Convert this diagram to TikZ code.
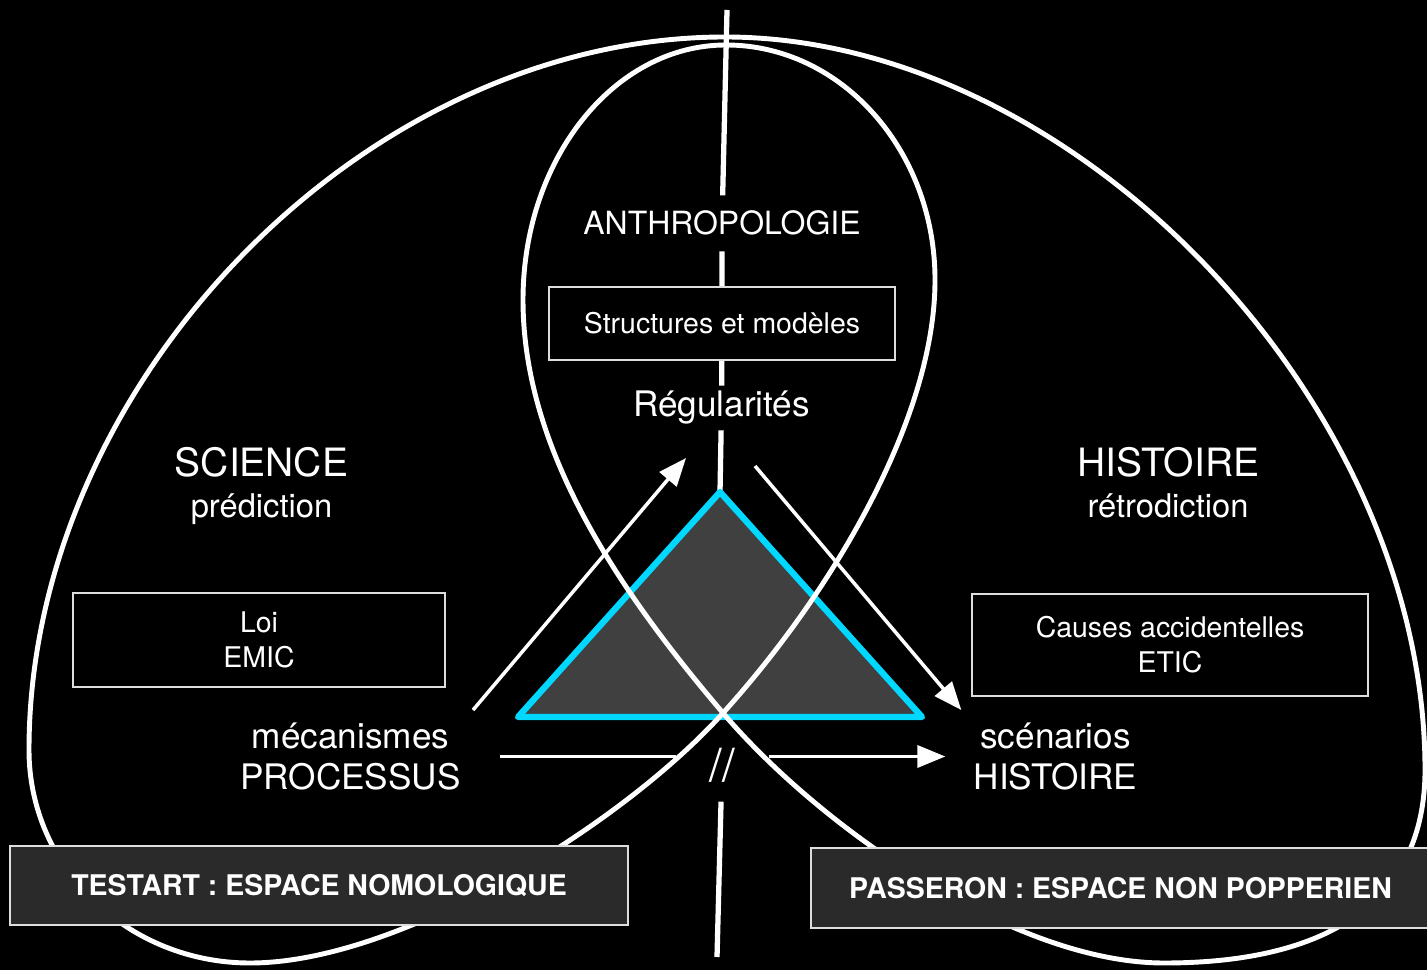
\documentclass[tikz,border=0pt]{standalone}
\usepackage{fontspec}
\setmainfont{TeX Gyre Heros}
\usetikzlibrary{arrows.meta}
\definecolor{cyanline}{RGB}{0,216,255}
\definecolor{trifill}{RGB}{64,64,64}
\definecolor{bandfill}{RGB}{42,42,42}
\definecolor{framegray}{RGB}{222,222,222}

\begin{document}
\begin{tikzpicture}[
    every node/.append style={text=white},
    box/.style={draw=framegray, line width=0.6pt, fill=black, inner sep=0pt, align=center, font=\fontsize{8.1}{10}\selectfont},
    banner/.style={draw=framegray, line width=0.6pt, fill=bandfill, inner sep=0pt, font=\fontsize{8.1}{9.7}\selectfont\bfseries},
    title/.style={font=\fontsize{11.1}{13}\selectfont, anchor=base},
    sub/.style={font=\fontsize{9.3}{11}\selectfont, anchor=base},
    word/.style={font=\fontsize{10}{11.9}\selectfont, align=center},
    axis/.style={draw=white, line width=1.5pt},
    lobe/.style={draw=white, line width=1.4pt},
    arrow/.style={draw=white, line width=1pt, -{Triangle[length=2.8mm, width=2.2mm]}}
]
\path[use as bounding box, fill=black] (0,0) rectangle (14.27,9.70);

% --- Centre axis ---
\node[font=\fontsize{9.1}{11}\selectfont, anchor=base, inner sep=1.5mm] (anthro) at (7.22,7.35) {ANTHROPOLOGIE};
\node[box, minimum width=3.46cm, minimum height=0.73cm] (struct) at (7.22,6.465) {Structures et modèles};
\node[word, anchor=base, inner sep=0.5mm] (regul) at (7.215,5.53) {Régularités};

% --- Science side ---
\node[title] (science) at (2.615,4.93) {SCIENCE};
\node[sub] (pred) at (2.615,4.52) {prédiction};
\node[box, minimum width=3.72cm, minimum height=0.94cm] (loi) at (2.59,3.30) {Loi\\EMIC};
\node[word] (proc) at (3.505,2.135) {mécanismes\\PROCESSUS};

% --- Histoire side ---
\node[title] (hist) at (11.685,4.93) {HISTOIRE};
\node[sub] (retro) at (11.68,4.52) {rétrodiction};
\node[box, minimum width=3.96cm, minimum height=1.02cm] (causes) at (11.70,3.25) {Causes accidentelles\\ETIC};
\node[word] (scen) at (10.555,2.135) {scénarios\\HISTOIRE};

% --- Axis and arrows ---
\coordinate (ctop) at (7.27,9.60);
\coordinate (apex) at (7.20,4.78);
\coordinate (bl) at (5.18,2.53);
\coordinate (br) at (9.22,2.53);
\coordinate (upL) at (6.86,5.12);
\coordinate (dnR) at (7.55,5.04);
\coordinate (cbot) at (7.17,0.13);

\draw[axis] (ctop) -- (anthro) (anthro) -- (struct) (struct) -- (regul) (regul) -- (apex);
\draw[arrow] (proc.north east) -- (upL);
\draw[arrow] (dnR) -- (scen.north west);
\draw[arrow, shorten <=2.7mm, shorten >=1.6mm] (proc.east) -- (scen.west);

\node[fill=black, inner sep=0pt, minimum width=0.93cm, minimum height=0.40cm, font=\fontsize{13}{15}\selectfont] (brk) at (7.22,2.05) {//};
\draw[axis, shorten <=1.6mm] (brk) -- (cbot);

% --- Triangle ---
\filldraw[fill=trifill, draw=cyanline, line width=1.8pt, line join=round] (apex) -- (bl) -- (br) -- cycle;

% --- Lobes (one closed line crossing itself under the triangle) ---
\coordinate (cross) at (7.23,2.57);
\draw[lobe] (2.50,0.07)
    .. controls (4.00,0.07) and (6.23,1.46) .. (cross)
    .. controls (8.30,3.75) and (9.35,5.50) .. (9.35,6.90)
    .. controls (9.35,8.20) and (8.41,9.25) .. (7.26,9.25)
    .. controls (6.14,9.25) and (5.23,8.11) .. (5.23,6.70)
    .. controls (5.23,5.20) and (6.19,3.79) .. (cross)
    .. controls (8.20,1.43) and (10.14,0.07) .. (11.64,0.07)
    .. controls (13.30,0.07) and (14.25,0.70) .. (14.25,2.00)
    .. controls (14.25,5.67) and (10.75,9.33) .. (7.25,9.33)
    .. controls (3.63,9.33) and (0.29,5.86) .. (0.29,2.20)
    .. controls (0.29,1.02) and (1.28,0.07) .. cycle;

% --- Banners ---
\node[banner, minimum width=6.18cm, minimum height=0.79cm] (testart) at (3.19,0.845) {TESTART : ESPACE NOMOLOGIQUE};
\node[banner, minimum width=6.19cm, minimum height=0.80cm] (passeron) at (11.205,0.82) {PASSERON : ESPACE NON POPPERIEN};

\end{tikzpicture}
\end{document}
